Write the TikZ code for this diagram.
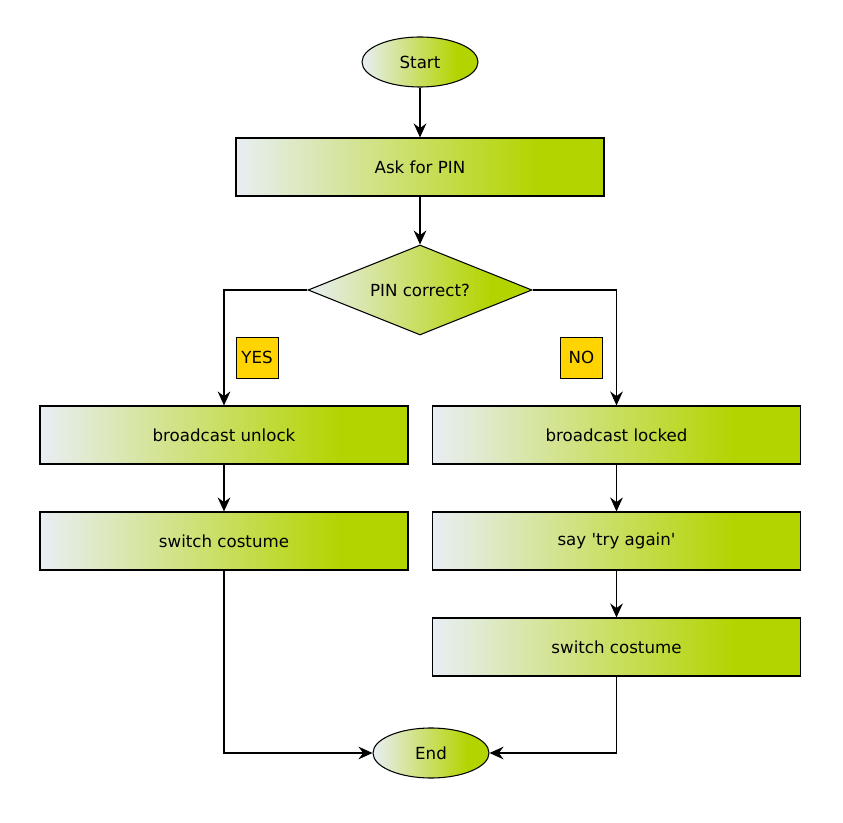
\documentclass[tikz,border=0pt]{standalone}
\usepackage{fontspec}
\setmainfont{DejaVu Sans}
\usepackage{tikz}
\usetikzlibrary{positioning,
                arrows.meta,                % arrow tips
                shapes.geometric}           % ellipse, diamond

\definecolor{pale}{RGB}{232,238,244}
\definecolor{lime}{RGB}{180,212,0}
\definecolor{gold}{RGB}{255,212,0}

% light on the left, full green from about 80% on
\pgfdeclarehorizontalshading{limegrad}{100bp}{color(0bp)=(pale); color(25bp)=(pale);
  color(66bp)=(lime); color(100bp)=(lime)}

\tikzset{
  base/.style={draw=black, line width=0.8pt, shading=limegrad, font=\fontsize{12.5}{15}\selectfont},
  terminal/.style={base, ellipse, minimum width=87pt, minimum height=37.5pt, inner sep=0pt},
  process/.style={base, rectangle, minimum width=276pt, minimum height=43.5pt},
  decision/.style={base, diamond, aspect=2.5, minimum width=168pt, minimum height=67.5pt, inner sep=0pt},
  answer/.style={draw=black, line width=0.6pt, fill=gold, minimum width=31.5pt, minimum height=30.75pt,
                 inner sep=0pt, font=\fontsize{12.5}{15}\selectfont},
  flow/.style={line width=0.8pt, -{Stealth[length=10.5pt, width=9.5pt, inset=3.5pt]}}
}

\begin{document}
\begin{tikzpicture}[x=0.75pt, y=-0.75pt]
        \useasboundingbox (0,0) rectangle (843,823);

        \node[terminal] (start) at (420,62) {Start};
        \node[process]  (ask) at (420,167) {Ask for PIN};
        \node[decision] (pin) at (420,290) {PIN correct?};
        \node[answer]   (yes) at (257,357.5) {YES};
        \node[answer]   (no) at (581.5,357.5) {NO};

        \node[process]  (unlock) at (224,435) {broadcast unlock};
        \node[process]  (costumeL) at (224,541) {switch costume};

        \node[process]  (locked) at (616.5,435) {broadcast locked};
        \node[process]  (retry) at (616.5,541) {say \textquotesingle try again\textquotesingle};
        \node[process]  (costumeR) at (616.5,647) {switch costume};

        \node[terminal] (end) at (431,753) {End};

        \draw[flow] (start) -- (ask);
        \draw[flow] (ask) -- (pin);
        \draw[flow] (pin.west) -| (unlock.north);
        \draw[flow] (pin.east) -| (locked.north);
        \draw[flow] (unlock) -- (costumeL);
        \draw[flow] (locked) -- (retry);
        \draw[flow] (retry) -- (costumeR);
        \draw[flow] (costumeL.south) |- (end.west);
        \draw[flow] (costumeR.south) |- (end.east);

    \end{tikzpicture}
\end{document}
